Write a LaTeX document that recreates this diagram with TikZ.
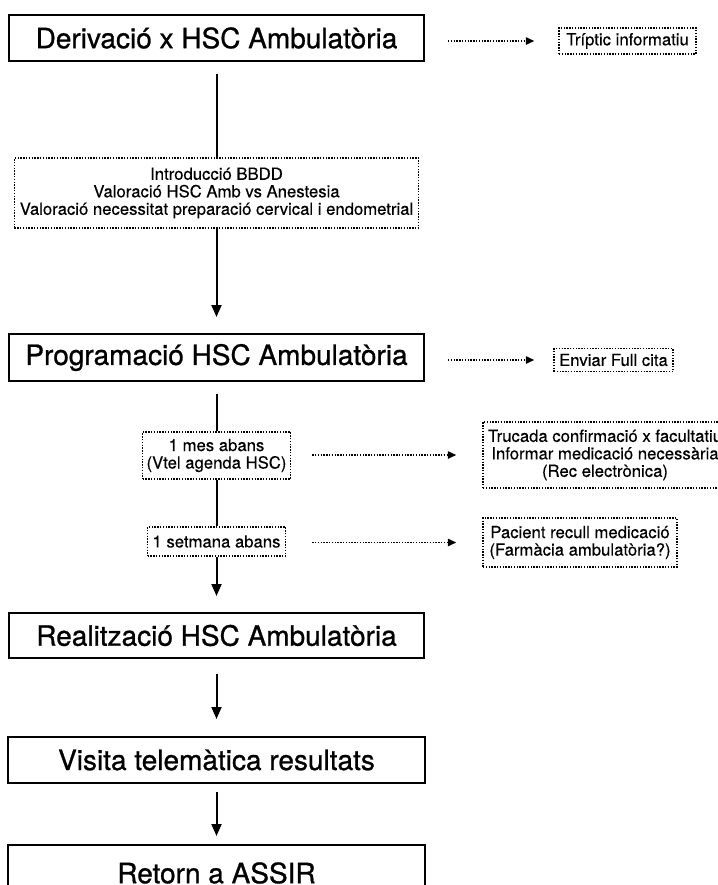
\documentclass[tikz,border=0pt]{standalone}
\usepackage{fontspec}
\setmainfont{TeX Gyre Heros}
\newfontfamily\titlefam{TeX Gyre Heros}[FakeBold=0.9]
\newfontfamily\notefam{TeX Gyre Heros}[FakeBold=0.35]
\usetikzlibrary{arrows.meta}
\newcommand\titlefnt{\titlefam\fontsize{28bp}{33bp}\selectfont}
\newcommand\notefnt{\notefam\fontsize{16.7bp}{17.5bp}\selectfont}
\begin{document}
\begin{tikzpicture}[x=1bp,y=-1bp,
  titlebox/.style={draw, line width=2bp, inner sep=0pt, minimum width=415bp, minimum height=46bp, font=\titlefnt},
  notebox/.style={draw, line width=1.5bp, dash pattern=on 1.4bp off 1.4bp, inner sep=0pt, align=center, font=\notefnt},
  flowline/.style={line width=2bp},
  flow/.style={line width=2bp, -{Triangle[width=10bp,length=12bp]}},
  dotarrow/.style={line width=1.5bp, dash pattern=on 1.4bp off 1.4bp, -{Triangle[width=7.5bp,length=8.5bp]}}]
\useasboundingbox (0,0) rectangle (718,885);
\clip (0,0) rectangle (718,885);

\node[titlebox] (box1) at (216.5,38) {Derivació x HSC Ambulatòria};
\node[notebox, minimum width=137bp, minimum height=26bp] (trip) at (627.5,41) {Tríptic informatiu};
\node[notebox, minimum width=404bp, minimum height=70bp] (box2) at (216.5,193)
  {Introducció BBDD\\Valoració HSC Amb vs Anestesia\\Valoració necessitat preparació cervical i endometrial};
\node[titlebox, minimum height=47bp] (box3) at (216.5,357.5) {Programació HSC Ambulatòria};
\node[notebox, minimum width=119bp, minimum height=23bp] (enviar) at (613.5,360) {Enviar Full cita};
\node[notebox, minimum width=148bp, minimum height=47bp] (mes) at (216.5,455.5) {1 mes abans\\(Vtel agenda HSC)};
\node[notebox, minimum width=244bp, minimum height=66bp] (truc) at (605,455)
  {Trucada confirmació x facultatiu\\Informar medicació necessària\\(Rec electrònica)};
\node[notebox, minimum width=138bp, minimum height=29bp] (setm) at (216.5,541.5) {1 setmana abans};
\node[notebox, minimum width=194bp, minimum height=49bp] (pac) at (580,542.5)
  {Pacient recull medicació\\(Farmàcia ambulatòria?)};
\node[titlebox, minimum height=45bp] (real) at (216.5,635.5) {Realització HSC Ambulatòria};
\node[titlebox, minimum width=416bp] (vis) at (216.5,760) {Visita telemàtica resultats};
\node[titlebox, minimum width=416bp, minimum height=56bp] (ret) at (216.5,873) {Retorn a ASSIR};

\draw[flowline, shorten <=12bp] (box1.south) -- (box2.north);
\draw[flow, shorten >=16bp] (box2.south) -- (box3.north);
\draw[flowline, shorten <=12bp] (box3.south) -- (mes.north);
\draw[flowline] (mes.south) -- (setm.north);
\draw[flow, shorten >=16bp] (setm.south) -- (real.north);
\draw[flow, shorten <=15bp, shorten >=17bp] (real.south) -- (vis.north);
\draw[flow, shorten <=8bp, shorten >=8bp] (vis.south) -- (ret.north);

\draw[dotarrow, shorten <=23bp, shorten >=24bp] (box1.east |- trip.west) -- (trip.west);
\draw[dotarrow, shorten <=23bp, shorten >=19bp] (box3.east |- enviar.west) -- (enviar.west);
\draw[dotarrow, shorten <=21bp, shorten >=26bp] (mes.east |- truc.west) -- (truc.west);
\draw[dotarrow, shorten <=26bp, shorten >=26bp] (setm.east |- pac.west) -- (pac.west);
\end{tikzpicture}
\end{document}
